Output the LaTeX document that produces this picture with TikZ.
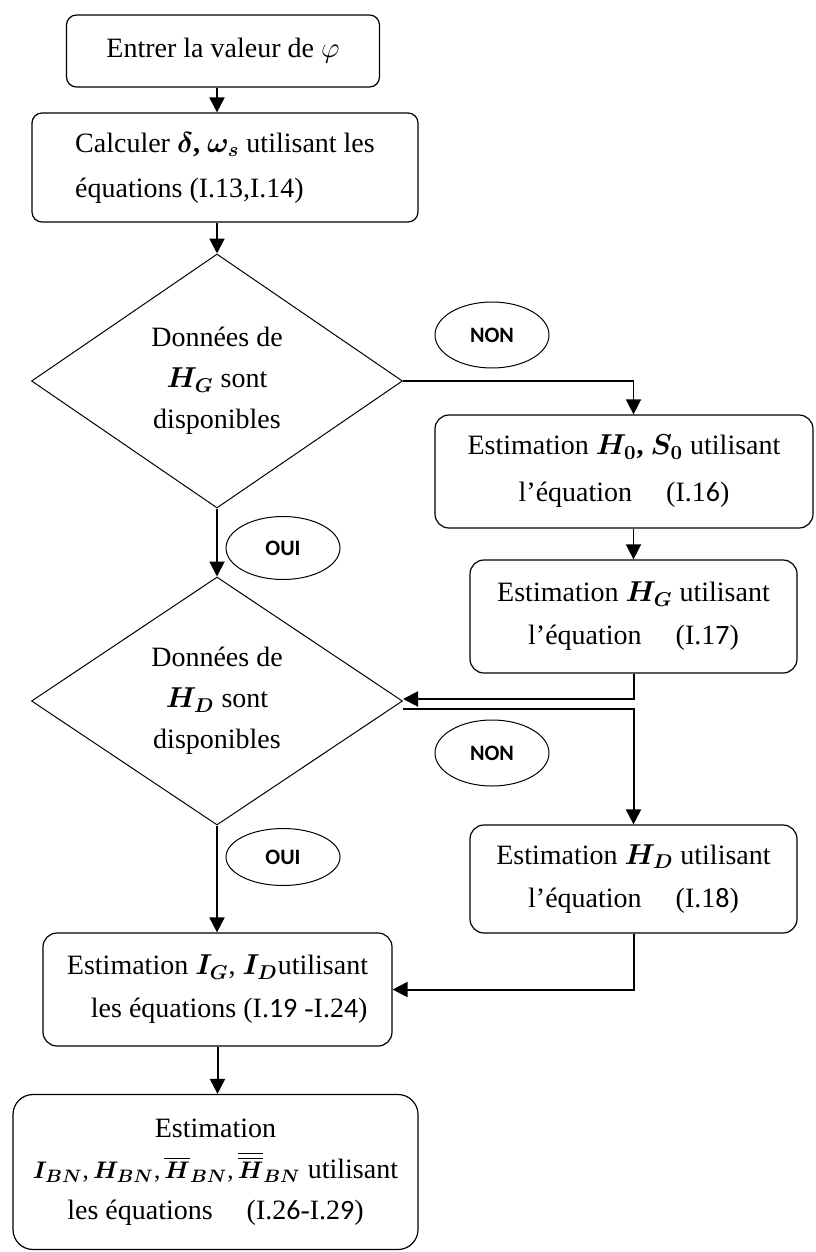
\documentclass[tikz,border=0pt]{standalone}
\usepackage{fontspec}
\setmainfont{Liberation Serif}
\newfontfamily\calib{Carlito}
\usepackage{amsmath}
\usepackage{bm}
\usepackage{tikz}
\usetikzlibrary{arrows.meta,shapes.geometric,calc}
\newcommand{\dg}[1]{{\calib #1}}

\begin{document}
\begin{tikzpicture}[x=0.5pt,y=-0.5pt,
  font=\fontsize{14}{21.5}\selectfont,
  boite/.style={draw,line width=0.6pt,rounded corners=5pt,inner sep=0pt,align=center},
  losange/.style={draw,diamond,aspect=1.46,line width=0.5pt,inner sep=0pt,align=center,minimum width=185.5pt,minimum height=127pt,font=\fontsize{14}{20.5}\selectfont},
  bulle/.style={draw,ellipse,line width=0.5pt,inner sep=0pt,minimum width=57pt,minimum height=33pt,font=\calib\bfseries\fontsize{11}{13}\selectfont},
  fleche/.style={line width=1pt,-{Triangle[length=7.5pt,width=7.5pt]}}]
\useasboundingbox (0,0) rectangle (815,1252);
\node[boite,minimum width=156.5pt,minimum height=36pt] (entrer) at (223,51) {Entrer la valeur de $\varphi$};
\node[boite,align=left,minimum width=193pt,minimum height=54.5pt,font=\fontsize{14}{22.5}\selectfont] (calc) at (225,167.5) {Calculer $\bm{\delta}$\textbf{,} $\bm{\omega_s}$ utilisant les\\ équations (I.13,I.14)};
\node[losange] (dHG) at (217,381) {Données de\\ $\bm{H_G}$ sont\\ disponibles};
\node[bulle] (non1) at (492,335) {NON};
\node[boite,rounded corners=7pt,minimum width=189pt,minimum height=56.5pt,font=\fontsize{14}{23.5}\selectfont] (est0) at (624,471.5) {Estimation $\bm{H_0}$\textbf{,} $\bm{S_0}$ utilisant\\ l’équation\hspace{17pt}(I.1\dg{6})};
\node[boite,rounded corners=7pt,minimum width=163.5pt,minimum height=56.5pt] (estG) at (633.5,616.5) {Estimation $\bm{H_G}$ utilisant\\ l’équation\hspace{17pt}(I.1\dg{7})};
\node[bulle,minimum height=31.5pt] (oui1) at (283,548) {OUI};
\node[losange,minimum height=124pt] (dHD) at (217,701) {Données de\\ $\bm{H_D}$ sont\\ disponibles};
\node[bulle] (non2) at (492,753) {NON};
\node[boite,rounded corners=7pt,minimum width=163.5pt,minimum height=54pt] (estD) at (633.5,879) {Estimation $\bm{H_D}$ utilisant\\ l’équation\hspace{17pt}(I.1\dg{8})};
\node[bulle,minimum height=28.5pt] (oui2) at (283,857) {OUI};
\node[boite,align=left,rounded corners=7pt,minimum width=174.5pt,minimum height=56.5pt] (estI) at (217.5,989.5) {Estimation $\bm{I_G}$, $\bm{I_D}$utilisant\\ \hspace*{12pt}les équations (I.\dg{19} -I.2\dg{4})};
\node[boite,rounded corners=10pt,minimum width=202.5pt,minimum height=77.5pt,font=\fontsize{14}{20.5}\selectfont] (estBN) at (215.5,1172) {Estimation\\ {\fontsize{12.5}{20.5}\selectfont$\bm{I_{BN}}$,\,$\bm{H_{BN}}$,\,$\bm{\overline{H}_{BN}}$,\,$\bm{\overline{\overline{H}}_{BN}}$} utilisant\\ les équations\hspace{17pt}(I.2\dg{6}-I.2\dg{9})};
\draw[fleche] (dHG.north |- entrer.south) -- (dHG.north |- calc.north);
\draw[fleche] (dHG.north |- calc.south) -- (dHG.north);
\draw[fleche,line width=0.7pt] (dHG.east) -| (est0.north -| estG.north);
\draw[fleche,line width=0.7pt] (est0.south -| estG.south) -- (estG.north);
\draw[fleche] (dHG.south) -- (dHD.north);
\draw[fleche] (estG.south) |- ([yshift=1pt]dHD.east);
\draw[fleche] ([yshift=-4pt]dHD.east) -| (estD.north);
\draw[fleche] (dHD.south) -- (dHD.south |- estI.north);
\draw[fleche] (estD.south) |- (estI.east);
\draw[fleche] (estI.south) -- (estI.south |- estBN.north);
\end{tikzpicture}
\end{document}
